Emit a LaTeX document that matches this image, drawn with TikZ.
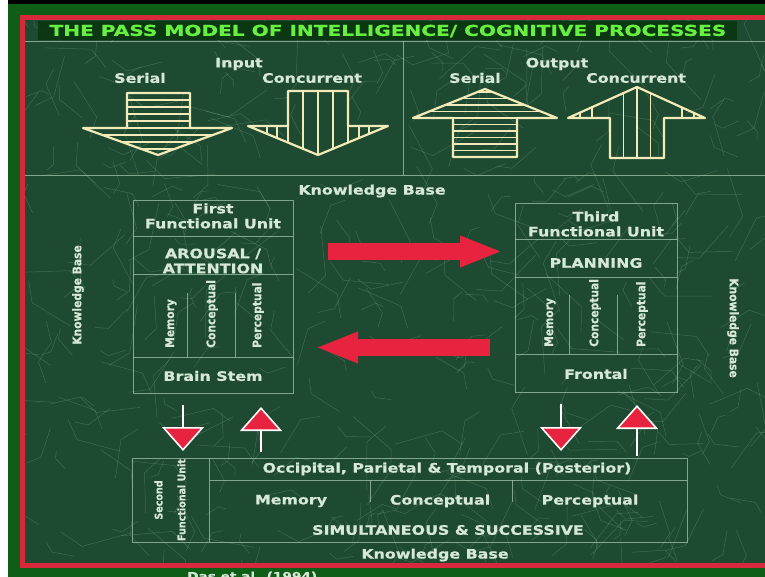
\documentclass[tikz,border=0pt]{standalone}
\usepackage{fontspec}
\setmainfont{DejaVu Sans}[FakeStretch=1.22, BoldFeatures={FakeBold=0.6}]
\newfontfamily\narrowfont{DejaVu Sans}[FakeStretch=0.9, BoldFeatures={FakeBold=0.5}]
\newfontfamily\titlefont{DejaVu Sans}[FakeStretch=1.34, BoldFeatures={FakeBold=0.6}]
\usetikzlibrary{arrows.meta}
\definecolor{marble}{HTML}{1D4A30}
\definecolor{veincol}{HTML}{A4D0B0}
\definecolor{bandgreen}{HTML}{0E5E18}
\definecolor{framered}{HTML}{D8283C}
\definecolor{titlegreen}{HTML}{66F040}
\definecolor{chalk}{HTML}{D6E8D6}
\definecolor{rulecol}{HTML}{A2C6AC}
\definecolor{cream}{HTML}{F2EAB8}
\definecolor{alarm}{HTML}{E8233F}

\begin{document}
\begin{tikzpicture}[
      x=1pt, y=-1pt,
      lbl/.style={text=chalk, font=\fontsize{13}{15}\selectfont\bfseries,
                  inner sep=0pt, align=center},
      rot/.style={text=chalk, font=\narrowfont\fontsize{11.9}{14}\selectfont\bfseries,
                  inner sep=0pt, rotate=90, anchor=west},
      side/.style={text=chalk, font=\narrowfont\fontsize{11.9}{14}\selectfont\bfseries,
                  inner sep=0pt},
      cell/.style={draw=rulecol, line width=0.8pt, draw opacity=0.75},
      hatch/.style={draw=cream, line width=1.5pt},
      rim/.style={draw=cream, line width=2.2pt, line join=round},
      bigred/.style={draw=alarm, line width=17pt,
                  -{Triangle[width=32pt, length=40pt, line width=0.1pt]}},
      smallar/.style={draw=white, line width=2.6pt,
                  -{Triangle[width=42pt, length=24pt, fill=alarm, line width=1.6pt]}},
      vein/.style={draw=veincol, line width=0.5pt, opacity=0.25}
    ]
    \useasboundingbox (0,0) rectangle (765,577);
    % frame and background
    \fill[white] (0,0) rectangle (765,577);
    \fill[bandgreen] (8,0) rectangle (765,577);
    \fill[black] (8,0) rectangle (765,4.5);
    \fill[marble] (22,17) rectangle (765,566);
    \begin{scope}
      \clip (22,17) rectangle (765,566);
      \pgfmathsetseed{17}
      \foreach \i in {1,...,420}{
        \pgfmathsetmacro{\xa}{22+743*rnd}
        \pgfmathsetmacro{\ya}{17+549*rnd}
        \pgfmathsetmacro{\an}{360*rnd}
        \pgfmathsetmacro{\ln}{12+40*rnd}
        \draw[vein] (\xa,\ya) -- ++(\an:\ln) -- ++(\an+50:\ln/2);
      }
    \end{scope}
    \draw[framered, line width=4.5pt] (22.5,17.5) rectangle (800,565.5);

    % title
    \fill[black!45!bandgreen, opacity=0.85] (38,21) rectangle (737,40);
    \node[text=titlegreen, font=\titlefont\fontsize{15}{18}\selectfont\bfseries, inner sep=0pt]
      (ttl) at (388,31) {THE PASS MODEL OF INTELLIGENCE/ COGNITIVE PROCESSES};
    \draw[cell] (25,41) -- (765,41);
    \draw[cell] (403,41) -- (403,175);
    \draw[cell] (25,175) -- (765,175);

    % input / output
    \node[lbl] (in) at (239,64) {Input};
    \node[lbl] (inser) at (140,78) {Serial};
    \node[lbl] (inconc) at (312,78) {Concurrent};
    \node[lbl] (out) at (557,64) {Output};
    \node[lbl] (outser) at (475,78) {Serial};
    \node[lbl] (outconc) at (636,78) {Concurrent};

    \begin{scope}
      \clip (127,93) -- (190,93) -- (190,128) -- (232,128) -- (158,155) -- (83,128) -- (127,128) -- cycle;
      \foreach \y in {100,107,114,121,128,135,142,149}
        \draw[hatch] (80,\y) -- (240,\y);
    \end{scope}
    \draw[rim] (127,93) -- (190,93) -- (190,128) -- (232,128) -- (158,155) -- (83,128) -- (127,128) -- cycle;

    \begin{scope}
      \clip (288,91) -- (348,91) -- (348,126) -- (388,126) -- (318,155) -- (248,126) -- (288,126) -- cycle;
      \foreach \x in {267,277,288,303,318,333,348,359,369}
        \draw[hatch] (\x,88) -- (\x,158);
    \end{scope}
    \draw[rim] (288,91) -- (348,91) -- (348,126) -- (388,126) -- (318,155) -- (248,126) -- (288,126) -- cycle;

    \begin{scope}
      \clip (485,89) -- (557,118) -- (517,118) -- (517,157) -- (453,157) -- (453,118) -- (413,118) -- cycle;
      \foreach \y in {92,98.5,105,111.5,118,124.5,131,137.5,144,150.5}
        \draw[hatch] (410,\y) -- (560,\y);
    \end{scope}
    \draw[rim] (485,89) -- (557,118) -- (517,118) -- (517,157) -- (453,157) -- (453,118) -- (413,118) -- cycle;

    \begin{scope}
      \clip (637,87) -- (705,118) -- (664,118) -- (664,158) -- (610,158) -- (610,118) -- (568,118) -- cycle;
      \foreach \x in {580,592,623.5,637,650.5,682,694}
        \draw[hatch] (\x,84) -- (\x,160);
    \end{scope}
    \draw[rim] (637,87) -- (705,118) -- (664,118) -- (664,158) -- (610,158) -- (610,118) -- (568,118) -- cycle;

    % knowledge base labels
    \node[lbl] (kbtop) at (372,191) {Knowledge Base};
    \node[side, rotate=90] (kbleft) at (78,295) {Knowledge Base};
    \node[side, rotate=-90] (kbright) at (733,328) {Knowledge Base};
    \node[lbl] (kbbot) at (435,555) {Knowledge Base};

    % first functional unit
    \draw[cell] (133,200) rectangle (293,393);
    \draw[cell] (133,236) -- (293,236) (133,274) -- (293,274) (133,357) -- (293,357);
    \draw[cell] (187,293) -- (187,357) (235,293) -- (235,357);
    \node[lbl] (ffu) at (213,216) {First\\Functional Unit};
    \node[lbl] (arous) at (213,261) {AROUSAL /\\ATTENTION};
    \node[rot] (fmem) at (171,348) {Memory};
    \node[rot] (fcon) at (212,348) {Conceptual};
    \node[rot] (fper) at (258,348) {Perceptual};
    \node[lbl] (stem) at (213,376) {Brain Stem};

    % third functional unit
    \draw[cell] (515,203) rectangle (677,392);
    \draw[cell] (515,239) -- (677,239) (515,277) -- (677,277) (515,354) -- (677,354);
    \draw[cell] (569,295) -- (569,354) (617,295) -- (617,354);
    \node[lbl] (tfu) at (596,224) {Third\\Functional Unit};
    \node[lbl] (plan) at (596,263) {PLANNING};
    \node[rot] (tmem) at (550,347) {Memory};
    \node[rot] (tcon) at (595,347) {Conceptual};
    \node[rot] (tper) at (642,347) {Perceptual};
    \node[lbl] (front) at (596,374) {Frontal};

    % red arrows between units
    \coordinate (ra) at (328,251.5);
    \coordinate (rb) at (500,251.5);
    \coordinate (rc) at (490,347.5);
    \coordinate (rd) at (318,347.5);
    \draw[bigred] (ra) -- (rb);
    \draw[bigred] (rc) -- (rd);

    % second functional unit
    \draw[cell] (132,458) rectangle (687,542);
    \draw[cell] (209,458) -- (209,542) (209,480) -- (687,480);
    \draw[cell] (370,480) -- (370,502) (512,480) -- (512,502);
    \node[side, rotate=90, align=center, font=\narrowfont\fontsize{10.6}{23}\selectfont\bfseries]
      (sfu) at (170,500) {Second\\Functional Unit};
    \node[lbl] (post) at (447,469) {Occipital, Parietal \& Temporal (Posterior)};
    \node[lbl] (smem) at (291,501) {Memory};
    \node[lbl] (scon) at (440,501) {Conceptual};
    \node[lbl] (sper) at (590,501) {Perceptual};
    \node[lbl] (simsuc) at (448,530) {SIMULTANEOUS \& SUCCESSIVE};

    % small arrows
    \coordinate (da1) at (183,405);
    \coordinate (da2) at (183,451);
    \coordinate (ua1) at (261,452);
    \coordinate (ua2) at (261,407);
    \coordinate (db1) at (561,404);
    \coordinate (db2) at (561,451);
    \coordinate (ub1) at (637,456);
    \coordinate (ub2) at (637,405);
    \draw[smallar] (da1) -- (da2);
    \draw[smallar] (ua1) -- (ua2);
    \draw[smallar] (db1) -- (db2);
    \draw[smallar] (ub1) -- (ub2);

    % source, cut off by the page edge
    \node[text=chalk, font=\fontsize{11.2}{13}\selectfont\bfseries, inner sep=0pt, anchor=north west]
      (src) at (187,571.5) {Das et al. (1994)};
  \end{tikzpicture}
\end{document}
